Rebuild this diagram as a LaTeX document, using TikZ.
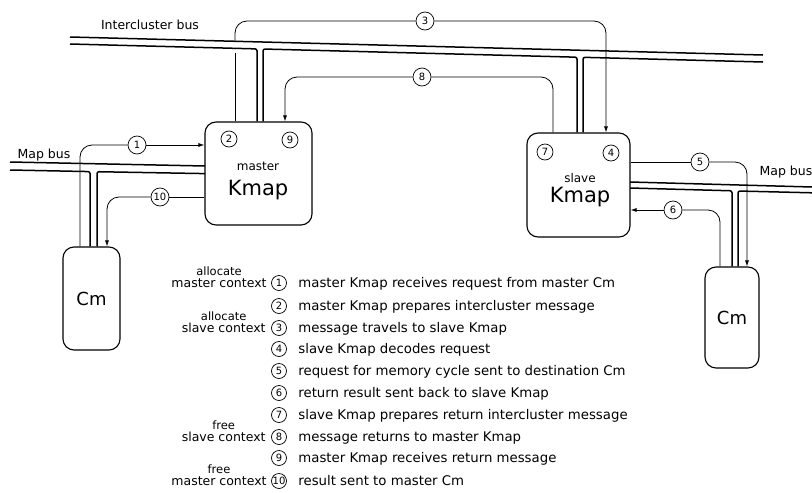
\documentclass[tikz,border=0pt]{standalone}
\usepackage{fontspec}
\setmainfont{DejaVu Sans}
\usetikzlibrary{arrows.meta, positioning}
\newcommand{\fsz}[1]{\fontsize{#1}{#1}\selectfont}

\begin{document}
\begin{tikzpicture}[
  x=1pt, y=-1pt,
  >={Latex[length=6pt,width=4pt]},
  line width=0.8pt,
  unit/.style={draw, line width=1.1pt, rounded corners=11pt},
  num/.style={circle, draw, line width=0.7pt, inner sep=0pt, minimum size=18pt, font=\fsz{10}},
  snum/.style={num, minimum size=16pt},
  lnum/.style={num, minimum size=15pt},
  bus/.style={line width=1.5pt, rounded corners=2pt},
  flow/.style={rounded corners=12pt},
  lbl/.style={inner sep=0pt, font=\fsz{12.5}},
  item/.style={inner sep=0pt, font=\fsz{13.3}}
]
\useasboundingbox (0,0) rectangle (812,493);

% Kmaps and Cms
\node[unit, minimum width=107pt, minimum height=103pt] (mk) at (258.5,173.5) {};
\node[font=\fsz{12}] (mkrole) at (258,166) {master};
\node[font=\fsz{21}] (mkname) at (258,190) {Kmap};
\node[unit, minimum width=103pt, minimum height=104pt] (sk) at (578.5,185) {};
\node[font=\fsz{12}] (skrole) at (580,178) {slave};
\node[font=\fsz{21}] (skname) at (580,197) {Kmap};
\node[unit, minimum width=57pt, minimum height=103pt, font=\fsz{18}] (cml) at (91.5,298.5) {Cm};
\node[unit, minimum width=54pt, minimum height=101pt, font=\fsz{18}] (cmr) at (732,317.5) {Cm};

% intercluster bus
\coordinate (im1) at (257,48.9);
\coordinate (im2) at (263,49);
\coordinate (is1) at (577,57.2);
\coordinate (is2) at (583,57.3);
\draw[bus] (70,37) -- (763,55);
\draw[bus] (70,44) -- (im1) -- (im1 |- mk.north);
\draw[bus] (mk.north -| im2) -- (im2) -- (is1) -- (is1 |- sk.north);
\draw[bus] (sk.north -| is2) -- (is2) -- (763,62);
\node[lbl] (icbus) at (150,25) {Intercluster bus};

% map buses
\coordinate (ml1) at (90,171.6);
\coordinate (ml2) at (97,171.7);
\draw[bus] (10,162) -- (205,166);
\draw[bus] (10,170) -- (ml1) -- (ml1 |- cml.north);
\draw[bus] (cml.north -| ml2) -- (ml2) -- (205,173.6);
\node[lbl] (mbusl) at (44,155) {Map bus};
\coordinate (mr1) at (732,190.8);
\coordinate (mr2) at (738,191);
\draw[bus] (630,182) -- (812,187);
\draw[bus] (630,188) -- (mr1) -- (mr1 |- cmr.north);
\draw[bus] (cmr.north -| mr2) -- (mr2) -- (812,192.8);
\node[lbl] (mbusr) at (786,172) {Map bus};

% numbered steps inside the Kmaps
\node[snum] (n2) at (229,139) {2};
\node[snum] (n9) at (290,140) {9};
\node[snum] (n7) at (545,152) {7};
\node[snum] (n4) at (611,153) {4};

% message flow
\node[num] (c1) at (137,145) {1};
\draw[flow] ([xshift=-11.5pt]cml.north) |- (c1);
\draw[->] (c1) -- (mk.west |- c1);

\coordinate (a2) at (235,53);
\draw (a2) -- (a2 |- mk.north);

\node[num] (c3) at (425,21) {3};
\coordinate (a3) at (235,41.4);
\coordinate (b3) at (606,0);
\draw[flow] (a3) |- (c3);
\draw[flow, ->] (c3) -| (b3 |- sk.north);

\node[num] (c5) at (700,162) {5};
\coordinate (b5) at (747,0);
\draw (sk.east |- c5) -- (c5);
\draw[flow, ->] (c5) -| (b5 |- cmr.north);

\node[num] (c6) at (673,210) {6};
\coordinate (a6) at (720,0);
\draw[flow] (a6 |- cmr.north) |- (c6);
\draw[->] (c6) -- (sk.east |- c6);

\node[num] (c8) at (422,77) {8};
\coordinate (a8) at (553,0);
\coordinate (b8) at (285,0);
\draw[flow] (a8 |- sk.north) |- (c8);
\draw[flow, ->] (c8) -| (b8 |- mk.north);

\node[num] (c10) at (160,197) {10};
\draw (mk.west |- c10) -- (c10);
\draw[flow, ->] (c10) -| ([xshift=15.5pt]cml.north);

% legend
\foreach \n/\y/\t in {
  1/283/master Kmap receives request from master Cm,
  2/306/master Kmap prepares intercluster message,
  3/328/message travels to slave Kmap,
  4/349/slave Kmap decodes request,
  5/371/request for memory cycle sent to destination Cm,
  6/393/return result sent back to slave Kmap,
  7/415/slave Kmap prepares return intercluster message,
  8/437/message returns to master Kmap,
  9/458/master Kmap receives return message,
  10/481/result sent to master Cm}{
  \node[lnum] (l\n) at (279,\y) {\n};
  \node[item, anchor=base west] (t\n) at (298,\y+4.7) {\t};
}

\node[lbl, anchor=base east] (ctx1) at (267,287.5) {master context};
\node[lbl, font=\fsz{11.5}, above=2pt of ctx1] (act1) {allocate};
\node[lbl, anchor=base east] (ctx3) at (266,332.5) {slave context};
\node[lbl, font=\fsz{11.5}, above=2pt of ctx3] (act3) {allocate};
\node[lbl, anchor=base east] (ctx8) at (266,441.5) {slave context};
\node[lbl, font=\fsz{11.5}, above=2pt of ctx8] (act8) {free};
\node[lbl, anchor=base east] (ctx10) at (267,485.5) {master context};
\node[lbl, font=\fsz{11.5}, above=2pt of ctx10] (act10) {free};
\end{tikzpicture}
\end{document}
